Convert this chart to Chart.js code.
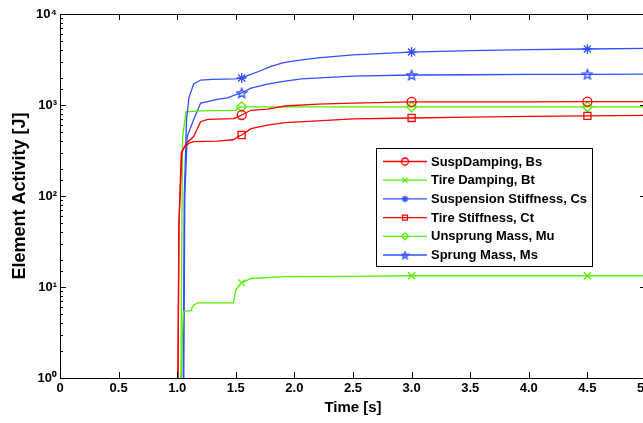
<!DOCTYPE html>
<html>
<head>
<meta charset="utf-8">
<script src="https://cdn.jsdelivr.net/npm/chart.js@4.4.1/dist/chart.umd.min.js"></script>
<style>
  html, body { margin: 0; padding: 0; overflow: hidden; background: #fff; }
  #wrap { width: 700px; height: 423px; }
</style>
</head>
<body>
<div id="wrap"><canvas id="energyChart"></canvas></div>
<script>
// Element activity data (time in s, activity in J)
const markerTimes = [1.55, 3, 4.5];

const bsTime   = [0, 1.0, 1.005, 1.015, 1.035, 1.05, 1.08, 1.14, 1.2, 1.26, 1.48, 1.52, 1.55, 1.63, 1.77, 1.92, 2.2, 2.5, 3, 3.5, 4, 4.5, 5];
const bsValues = [0.001, 0.001, 0.5, 50, 300, 330, 380, 450, 655, 695, 710, 740, 776, 875, 900, 975, 1020, 1050, 1080, 1083, 1085, 1087, 1090];

const btTime   = [0, 1.02, 1.025, 1.045, 1.053, 1.12, 1.13, 1.17, 1.48, 1.5, 1.55, 1.63, 1.92, 2.5, 3, 4.5, 5];
const btValues = [0.001, 0.001, 0.3, 3, 5.4, 5.5, 6.1, 6.7, 6.7, 9.3, 11.1, 12.4, 13.0, 13.1, 13.3, 13.3, 13.3];

const csTime   = [0, 1.04, 1.05, 1.06, 1.08, 1.1, 1.14, 1.2, 1.3, 1.5, 1.55, 1.6, 1.7, 1.8, 1.9, 2.0, 2.2, 2.5, 3, 3.5, 4, 4.5, 5];
const csValues = [0.001, 0.001, 0.5, 100, 700, 1200, 1700, 1880, 1910, 1940, 1980, 2100, 2350, 2650, 2900, 3050, 3300, 3550, 3820, 3950, 4050, 4125, 4180];

const ctTime   = [0, 1.0, 1.005, 1.015, 1.04, 1.06, 1.1, 1.14, 1.34, 1.48, 1.52, 1.55, 1.63, 1.77, 1.92, 2.2, 2.5, 3, 3.5, 4, 4.5, 5];
const ctValues = [0.001, 0.001, 0.5, 50, 300, 340, 380, 395, 400, 415, 450, 468, 550, 600, 640, 670, 705, 720, 735, 748, 760, 770];

const muTime   = [0, 1.02, 1.03, 1.04, 1.046, 1.075, 1.2, 1.5, 1.53, 1.55, 3, 4.5, 5];
const muValues = [0.001, 0.001, 0.5, 50, 440, 840, 860, 875, 950, 955, 955, 955, 955];

const msTime   = [0, 1.045, 1.055, 1.065, 1.085, 1.14, 1.2, 1.26, 1.34, 1.43, 1.5, 1.55, 1.63, 1.77, 1.92, 2.06, 2.5, 3, 3.5, 4, 4.5, 5];
const msValues = [0.001, 0.001, 0.5, 100, 450, 690, 1050, 1090, 1150, 1200, 1300, 1355, 1530, 1700, 1830, 1940, 2080, 2135, 2150, 2165, 2175, 2180];

const seriesNames = ['SuspDamping, Bs', 'Tire Damping, Bt', 'Suspension Stiffness, Cs', 'Tire Stiffness, Ct', 'Unsprung Mass, Mu', 'Sprung Mass, Ms'];
const yTickLabels = ['10\u2070', '10\u00b9', '10\u00b2', '10\u00b3', '10\u2074'];

const RED = '#ff0000', GREEN = '#55f000', BLUE = '#3050ff';
const FONT = "'Liberation Sans', Arial, sans-serif";

// five-pointed star marker (MATLAB 'p')
function pentagram(size, color) {
  const c = document.createElement('canvas');
  c.width = size; c.height = size;
  const g = c.getContext('2d');
  const cx = size / 2, cy = size / 2 + 0.5, ro = size / 2 - 1, ri = ro * 0.45;
  g.beginPath();
  for (let i = 0; i < 10; i++) {
    const r = i % 2 ? ri : ro;
    const a = -Math.PI / 2 + i * Math.PI / 5;
    g.lineTo(cx + r * Math.cos(a), cy + r * Math.sin(a));
  }
  g.closePath();
  g.strokeStyle = color; g.lineWidth = 1.4;
  g.stroke();
  return c;
}

function toPoints(t, v) {
  return t.map((x, i) => ({ x: x, y: v[i] }));
}

const styles = [
  { color: RED,   point: 'circle',   legendPoint: 'circle',   r: 4.5 },
  { color: GREEN, point: 'crossRot', legendPoint: 'crossRot', r: 5 },
  { color: BLUE,  point: 'star',     legendPoint: 'star',     r: 5 },
  { color: RED,   point: 'rect',     legendPoint: 'rect',     r: 5 },
  { color: GREEN, point: 'rectRot',  legendPoint: 'rectRot',  r: 5 },
  { color: BLUE,  point: pentagram(12, BLUE), legendPoint: pentagram(9, BLUE), r: 5 }
];
const seriesData = [
  toPoints(bsTime, bsValues), toPoints(btTime, btValues), toPoints(csTime, csValues),
  toPoints(ctTime, ctValues), toPoints(muTime, muValues), toPoints(msTime, msValues)
];

const datasets = seriesNames.map((name, i) => ({
  label: name,
  data: seriesData[i],
  borderColor: styles[i].color,
  backgroundColor: styles[i].color,
  pointBorderColor: styles[i].color,
  pointBackgroundColor: 'rgba(0,0,0,0)',
  pointStyle: styles[i].point,
  pointBorderWidth: 1.3,
  borderWidth: 1.3,
  tension: 0,
  pointRadius: ctx => (ctx.raw && markerTimes.includes(ctx.raw.x)) ? styles[i].r : 0,
  pointHoverRadius: 0
}));

// box + inward ticks like MATLAB axes
const matlabAxes = {
  id: 'matlabAxes',
  afterDraw(chart) {
    const { ctx, chartArea: a, scales } = chart;
    ctx.save();
    ctx.strokeStyle = '#000';
    ctx.lineWidth = 1;
    ctx.strokeRect(Math.round(a.left) + 0.5, Math.round(a.top) + 0.5, Math.round(a.right - a.left), Math.round(a.bottom - a.top));
    ctx.beginPath();
    scales.x.ticks.forEach(t => {
      const px = Math.round(scales.x.getPixelForValue(t.value)) + 0.5;
      ctx.moveTo(px, a.bottom); ctx.lineTo(px, a.bottom - 6);
      ctx.moveTo(px, a.top); ctx.lineTo(px, a.top + 6);
    });
    scales.y.ticks.forEach(t => {
      const py = Math.round(scales.y.getPixelForValue(t.value)) + 0.5;
      const major = Math.abs(Math.log10(t.value) - Math.round(Math.log10(t.value))) < 1e-9;
      const len = major ? 6 : 3;
      ctx.moveTo(a.left, py); ctx.lineTo(a.left + len, py);
      ctx.moveTo(a.right, py); ctx.lineTo(a.right - len, py);
    });
    ctx.stroke();
    ctx.restore();
  }
};

// MATLAB style legend: line with marker, inside the axes
const boxLegend = {
  id: 'boxLegend',
  afterDraw(chart) {
    const ctx = chart.ctx;
    const left = 376, top = 148, right = 592, bottom = 266;
    ctx.save();
    ctx.fillStyle = '#fff';
    ctx.fillRect(left, top, right - left, bottom - top);
    ctx.strokeStyle = '#000';
    ctx.lineWidth = 1;
    ctx.strokeRect(left + 0.5, top + 0.5, right - left, bottom - top);
    ctx.font = 'bold 13px ' + FONT;
    ctx.textBaseline = 'middle';
    chart.data.datasets.forEach((ds, i) => {
      const y = top + 13.5 + i * 18.7;
      ctx.strokeStyle = ds.borderColor;
      ctx.lineWidth = 1.3;
      ctx.beginPath();
      ctx.moveTo(383, y); ctx.lineTo(427, y);
      ctx.stroke();
      ctx.fillStyle = 'rgba(0,0,0,0)';
      Chart.helpers.drawPoint(ctx, { pointStyle: styles[i].legendPoint, radius: 3.5, rotation: 0, borderWidth: 1.3 }, 405, y);
      ctx.fillStyle = '#000';
      ctx.fillText(ds.label, 431, y + 0.5);
    });
    ctx.restore();
  }
};

new Chart(document.getElementById('energyChart').getContext('2d'), {
  type: 'line',
  data: { datasets: datasets },
  plugins: [matlabAxes, boxLegend],
  options: {
    responsive: true,
    maintainAspectRatio: false,
    animation: false,
    events: [],
    layout: { padding: { left: 0, top: 14, right: 54, bottom: 0 } },
    plugins: { legend: { display: false }, tooltip: { enabled: false } },
    scales: {
      x: {
        type: 'linear',
        min: 0, max: 5,
        grid: { display: false, drawTicks: false },
        border: { display: false },
        ticks: {
          stepSize: 0.5, autoSkip: false, maxRotation: 0, padding: 3,
          color: '#000', font: { family: FONT, size: 13, weight: 'bold' }
        },
        title: {
          display: true, text: 'Time [s]', color: '#000',
          font: { family: FONT, size: 15, weight: 'bold' },
          padding: { top: 0, bottom: 6 }
        },
        afterFit: s => { s.height = 45; }
      },
      y: {
        type: 'logarithmic',
        min: 1, max: 10000,
        grid: { display: false, drawTicks: false },
        border: { display: false },
        ticks: {
          autoSkip: false, padding: 3,
          color: '#000', font: { family: FONT, size: 13, weight: 'bold' },
          callback: v => {
            const p = Math.log10(v);
            return Math.abs(p - Math.round(p)) < 1e-9 ? yTickLabels[Math.round(p)] : '';
          }
        },
        title: {
          display: true, text: 'Element Activity [J]', color: '#000',
          font: { family: FONT, size: 18, weight: 'bold' },
          padding: { top: 9, bottom: 0 }
        },
        afterFit: s => { s.width = 60; }
      }
    }
  }
});
</script>
</body>
</html>
